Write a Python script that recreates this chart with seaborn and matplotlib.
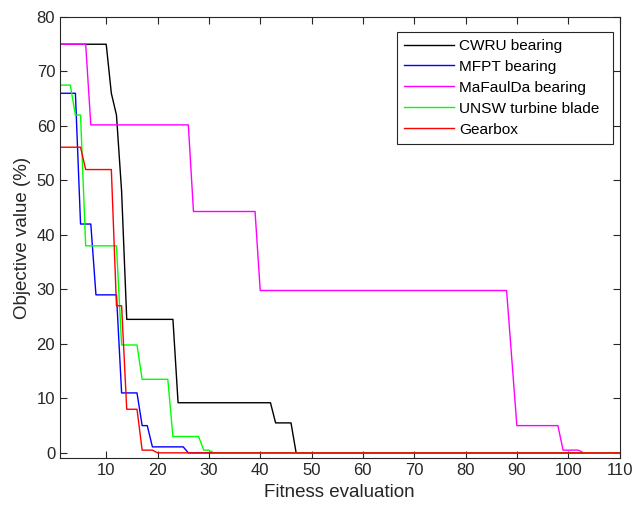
import pandas as pd
import numpy as np
import matplotlib
matplotlib.use('Agg')
import matplotlib.pyplot as plt
import seaborn as sns

# breakpoints (fitness evaluation, objective value %)
cwru_x = [1, 10, 11, 12, 13, 14, 23, 24, 42, 43, 46, 47, 110]
cwru_y = [75, 75, 66, 62, 48, 24.5, 24.5, 9.2, 9.2, 5.5, 5.5, 0, 0]

mfpt_x = [1, 4, 5, 7, 8, 12, 13, 16, 17, 18, 19, 25, 26, 110]
mfpt_y = [66, 66, 42, 42, 29, 29, 11, 11, 5, 5, 1.1, 1.1, 0, 0]

mafaulda_x = [1, 6, 7, 26, 27, 39, 40, 88, 89, 90, 98, 99, 102, 103, 110]
mafaulda_y = [75, 75, 60.2, 60.2, 44.3, 44.3, 29.8, 29.8, 17.4, 5, 5, 0.5, 0.5, 0, 0]

unsw_x = [1, 3, 4, 5, 6, 12, 13, 16, 17, 22, 23, 28, 29, 30, 31, 110]
unsw_y = [67.5, 67.5, 62, 62, 38, 38, 19.8, 19.8, 13.5, 13.5, 3, 3, 0.5, 0.5, 0, 0]

gear_x = [1, 5, 6, 11, 12, 13, 14, 16, 17, 19, 20, 110]
gear_y = [56.1, 56.1, 52, 52, 27, 27, 8, 8, 0.5, 0.5, 0, 0]

names = ['CWRU bearing', 'MFPT bearing', 'MaFaulDa bearing',
         'UNSW turbine blade', 'Gearbox']
colors = ['#000000', '#0000FF', '#FF00FF', '#00FF00', '#FF0000']

series = [(cwru_x, cwru_y), (mfpt_x, mfpt_y), (mafaulda_x, mafaulda_y),
          (unsw_x, unsw_y), (gear_x, gear_y)]
df = pd.concat([pd.DataFrame({'eval': x, 'obj': y, 'dataset': n})
                for n, (x, y) in zip(names, series)], ignore_index=True)

plt.rcParams['font.family'] = ['Liberation Sans', 'DejaVu Sans']

fig = plt.figure(figsize=(6.33, 5.09), dpi=100)
ax = fig.add_axes([0.0948, 0.0996, 0.8839, 0.867])
sns.lineplot(data=df, x='eval', y='obj', hue='dataset', hue_order=names,
             palette=colors, linewidth=1.0, sort=False, estimator=None,
             ax=ax)

ax.set_xlim(1, 110)
ax.set_ylim(-1, 80)
ax.set_xticks(np.arange(10, 111, 10))
ax.set_yticks(np.arange(0, 81, 10))
ax.tick_params(direction='in', top=True, right=True, labelsize=12,
               length=5, width=0.8, color='#262626', labelcolor='#262626')
for s in ax.spines.values():
    s.set_color('#262626')
    s.set_linewidth(0.8)
ax.set_xlabel('Fitness evaluation', fontsize=13.5, color='#262626')
ax.set_ylabel('Objective value (%)', fontsize=13.5, color='#262626')

# legend box stretched to MATLAB-like width (extra room on the right)
leg = ax.legend(loc='upper left', bbox_to_anchor=(0.6023, 0.5, 0.386, 0.466),
                mode='expand', fontsize=11.1, handlelength=3.25,
                handletextpad=0.35, fancybox=False, edgecolor='#262626',
                framealpha=1, borderaxespad=0, borderpad=0.45,
                labelspacing=0.45)
leg.get_frame().set_linewidth(0.8)
for line in leg.get_lines():
    line.set_linewidth(1.0)

fig.savefig('out.png', dpi=100)
